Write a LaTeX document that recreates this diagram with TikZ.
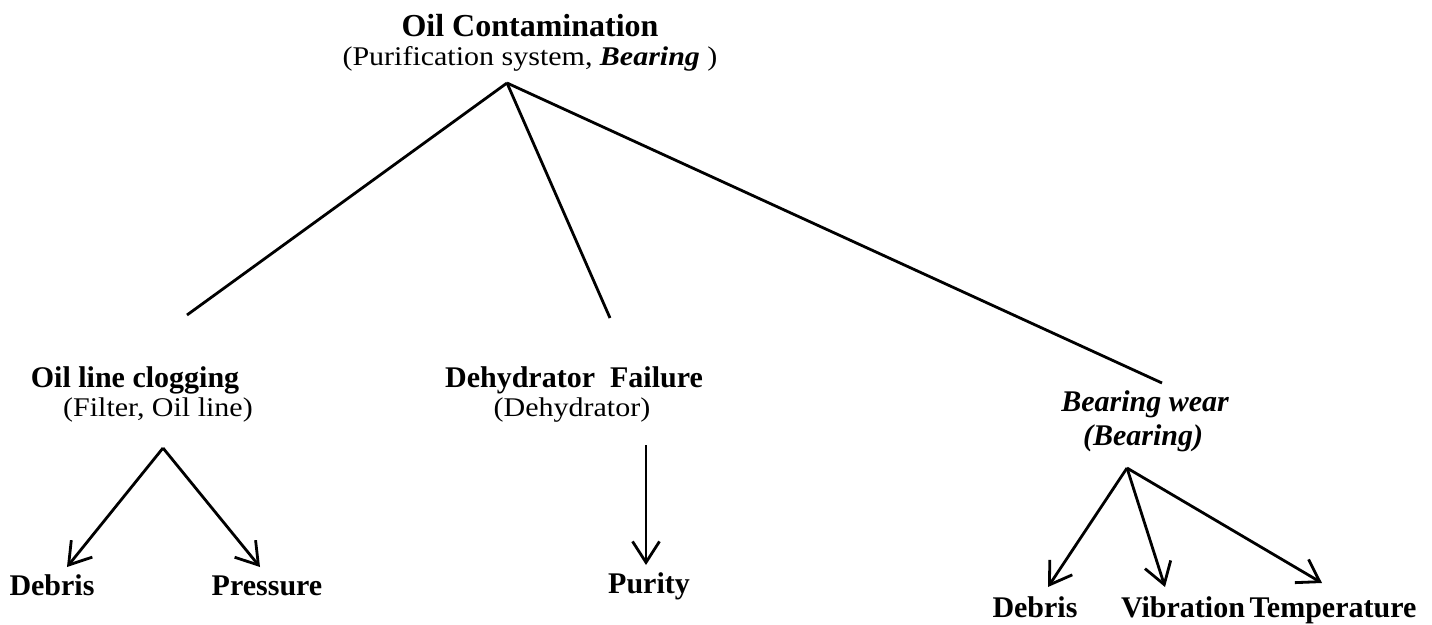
\documentclass[tikz,border=0pt]{standalone}
\usepackage{fontspec}
\setmainfont{Liberation Serif}
\usetikzlibrary{arrows.meta}
% regular captions are set slightly condensed in height
\newcommand{\sqz}[1]{\scalebox{1}[0.9]{#1}}
\begin{document}
\begin{tikzpicture}[x=1pt,y=-1pt,
  lab/.style={inner sep=0pt, anchor=base, font=\fontsize{30}{36}\selectfont},
  bold/.style={lab, font=\fontsize{30}{36}\selectfont\bfseries},
  bolditalic/.style={lab, font=\fontsize{30}{36}\selectfont\bfseries\itshape},
  ttl/.style={inner sep=0pt, anchor=base, font=\fontsize{32}{38}\selectfont\bfseries},
  link/.style={line width=2.8pt},
  arr/.style={line width=2.8pt, -{Straight Barb[length=21pt,width=27pt,line width=2.8pt]}}]
\useasboundingbox (0,0) rectangle (1432,624);

% root
\node[ttl] (root) at (530,36) {Oil Contamination};
\node[lab] (rootsub) at (530,65) {\sqz{(Purification system, \textbf{\textit{Bearing}} )}};
\coordinate (rj) at (507,83);

% second level
\node[bold] (olc) at (135,387) {Oil line clogging};
\node[lab] (olcsub) at (158,416) {\sqz{(Filter, Oil line)}};
\node[bold] (dhf) at (574,387) {Dehydrator\ \ Failure};
\node[lab] (dhfsub) at (572,416) {\sqz{(Dehydrator)}};
\node[bolditalic] (bw) at (1145,411) {Bearing wear};
\node[bolditalic] (bwsub) at (1143,445) {(Bearing)};

\coordinate (olcTop) at (187,315);
\coordinate (dhfTop) at (610,318);
\coordinate (bwTop) at (1162,383);
\draw[link] (rj) -- (olcTop);
\draw[link] (rj) -- (dhfTop);
\draw[link] (rj) -- (bwTop);

% third level
\node[bold] (deb1) at (52,595) {Debris};
\node[bold] (pres) at (267,595) {Pressure};
\node[bold] (pur) at (649,593) {Purity};
\node[bold] (deb2) at (1035,617) {Debris};
\node[bold] (vib) at (1183,617) {Vibration};
\node[bold] (temp) at (1333,617) {Temperature};

\coordinate (j1) at (163,448);
\coordinate (j2) at (646,445);
\coordinate (j3) at (1127,468);
\coordinate (t1) at (67,567);
\coordinate (t2) at (260,567);
\coordinate (t3) at (646,565);
\coordinate (t4) at (1048,587);
\coordinate (t5) at (1165,587);
\coordinate (t6) at (1322,583);

\draw[arr] (j1) -- (t1);
\draw[arr] (j1) -- (t2);
\draw[arr] (j2) -- (t3);
\draw[arr] (j3) -- (t4);
\draw[arr] (j3) -- (t5);
\draw[arr] (j3) -- (t6);
\end{tikzpicture}
\end{document}
